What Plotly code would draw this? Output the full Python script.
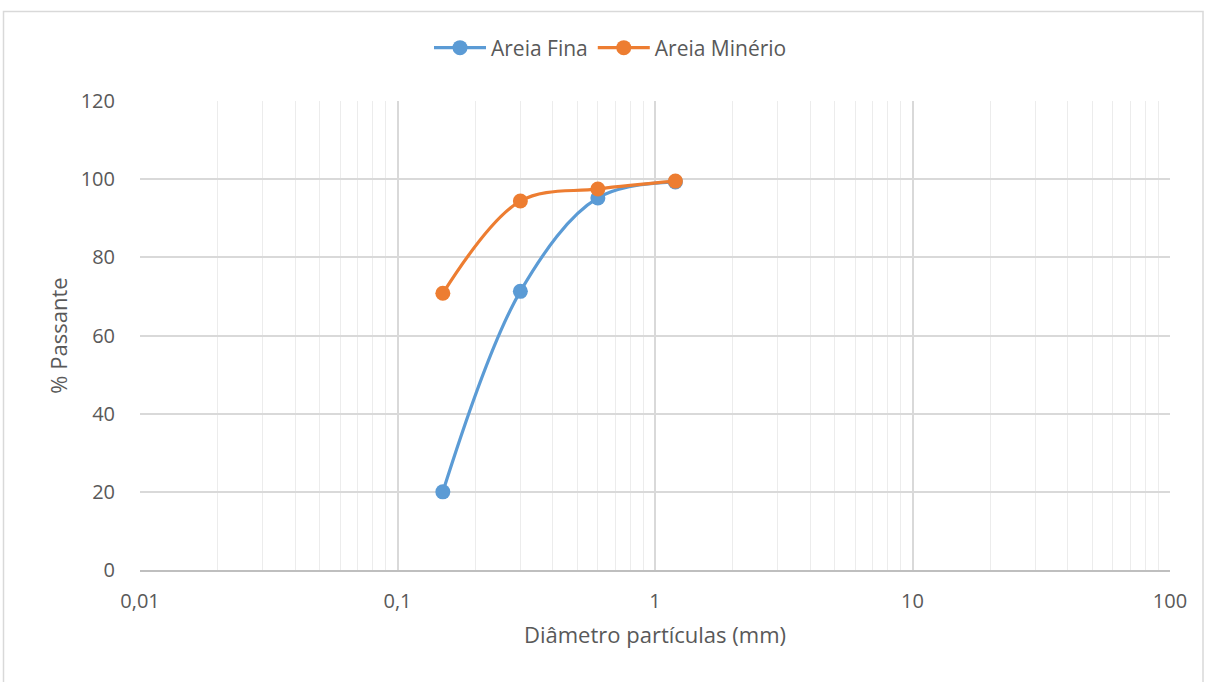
import plotly.graph_objects as go

diametro = [0.15, 0.3, 0.6, 1.2]
areia_fina = [20.0, 71.3, 95.2, 99.3]
areia_minerio = [70.8, 94.4, 97.5, 99.5]
series_names = ["Areia Fina", "Areia Minério"]
x_tickvals = [0.01, 0.1, 1, 10, 100]
x_ticktext = ["0,01", "0,1", "1", "10", "100"]
x_minor_vals = [m * d for d in [0.01, 0.1, 1, 10] for m in range(2, 10)]
y_tickvals = [0, 20, 40, 60, 80, 100, 120]

FONT = "Open Sans, Liberation Sans, sans-serif"
GREY = "#595959"

fig = go.Figure()
for name, vals, col in [(series_names[0], areia_fina, "#5b9bd5"),
                        (series_names[1], areia_minerio, "#ed7d31")]:
    fig.add_trace(go.Scatter(
        x=diametro, y=vals, name=name, mode="lines+markers",
        line=dict(color=col, width=3.2, shape="spline", smoothing=1),
        marker=dict(color=col, size=15),
    ))

fig.update_layout(
    width=1205, height=682,
    margin=dict(l=140, r=35, t=101, b=112, autoexpand=False),
    paper_bgcolor="white", plot_bgcolor="white",
    font=dict(family=FONT, size=20, color=GREY),
    legend=dict(orientation="h", x=(429 - 140) / 1030, xanchor="left",
                yref="container", y=1 - 48 / 682, yanchor="middle",
                font=dict(size=21, color=GREY), itemwidth=52),
    showlegend=True,
)
fig.update_xaxes(
    type="log", range=[-2, 2],
    tickvals=x_tickvals, ticktext=x_ticktext,
    tickfont=dict(size=20),
    showgrid=True, gridcolor="#d9d9d9", gridwidth=1.5,
    minor=dict(tickvals=x_minor_vals, showgrid=True, gridcolor="#ececec", gridwidth=1, ticks=""),
    showline=True, linecolor="#bfbfbf", linewidth=1.5,
    ticks="outside", ticklen=12, tickcolor="rgba(0,0,0,0)",
    zeroline=False,
    title=dict(text="Diâmetro partículas (mm)", font=dict(size=22, color=GREY), standoff=15),
)
fig.update_yaxes(
    range=[0, 120], tickvals=y_tickvals,
    tickfont=dict(size=20),
    showgrid=True, gridcolor="#d9d9d9", gridwidth=1.5,
    zeroline=False, showline=False,
    ticks="outside", ticklen=20, tickcolor="rgba(0,0,0,0)",
    title=dict(text="% Passante", font=dict(size=22, color=GREY), standoff=6),
)
fig.add_shape(type="rect", xref="paper", yref="paper",
              x0=(3.5 - 140) / 1030, x1=(1203 - 140) / 1030,
              y0=(570 - 690) / 469, y1=(570 - 11.5) / 469,
              line=dict(color="#d9d9d9", width=1.5), fillcolor="rgba(0,0,0,0)", layer="below")

fig.write_html("out.html", config={"displayModeBar": False},
               post_script="document.body.style.margin='0';")
